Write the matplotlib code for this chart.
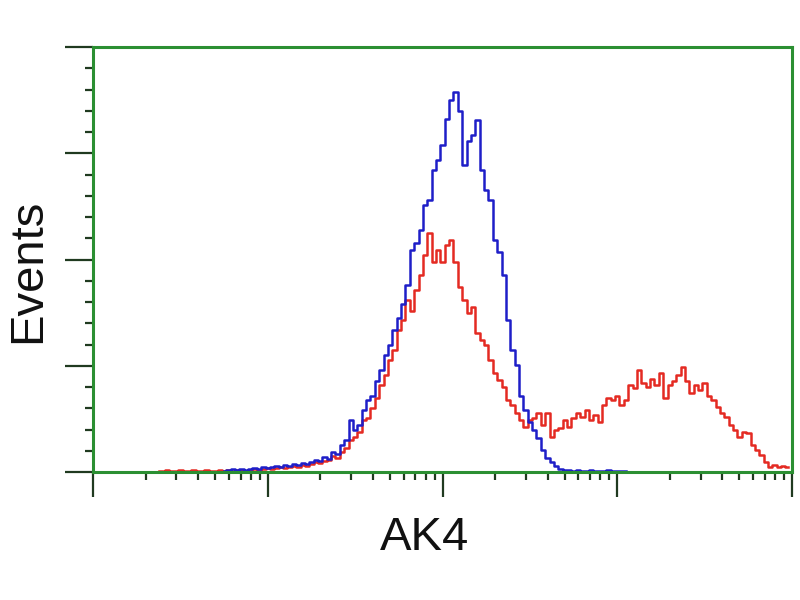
import numpy as np
import matplotlib
matplotlib.use("Agg")
import matplotlib.pyplot as plt
from matplotlib.ticker import FixedLocator, MultipleLocator, NullFormatter

# channel index -> value 10**(ch/40) (4 decades over 160 channels)
blue_start = 30
blue_counts = [
    0.5, 1, 1.4, 1, 1.4, 1, 1.4, 2, 1.4, 2.4,          # 30-39
    2, 2.4, 2.8, 2.4, 3.3, 2.8, 3.8, 3.3, 4.2, 3.8,     # 40-49
    4.7, 5.6, 5.2, 7, 6.1, 9.4, 8.5, 12.7, 15, 24.5,    # 50-59
    19.8, 22, 29, 34, 36, 43, 48, 55, 60, 67,           # 60-69
    72.5, 79, 88, 104.5, 108, 114, 125.6, 128, 142, 147,  # 70-79
    154, 166, 175, 179, 170, 144.5, 156, 158.6, 165.6, 142,  # 80-89
    132.7, 128, 109, 103.5, 92.7, 71.5, 57.4, 50.4, 36, 29,  # 90-99
    23.5, 19.8, 16, 10.4, 6.6, 4.7, 2.8, 1.4, 1, 1,     # 100-109
    0.5, 1, 0.5, 0.5, 1, 0.5, 0.5, 0.5, 1, 0.5,         # 110-119
    0.5, 0.5, 0.3,                                      # 120-122
]

red_start = 15
red_counts = [
    0.5, 0.5, 1, 0.5, 0.5, 1, 0.5, 0.5, 1, 0.5,                  # 15-24
    0.5, 1, 0.5, 0.5, 1, 0.5, 1, 0.5, 1, 1,                      # 25-34
    0.5, 1, 1.4, 1, 1.4, 1.9, 1.4, 1.9, 2.4, 1.9,                # 35-44
    2.4, 2.8, 2.4, 3.3, 2.8, 3.8,                                # 45-50
    4.7, 4.2, 5.2, 5.6, 7.5, 6.6, 9.4, 11.3, 15,                 # 51-59
    16.5, 18.8, 24.5, 25.4, 30, 35, 41, 45.6, 52.7, 57.4,        # 60-69
    67, 71.5, 81, 76, 85.6, 92.7, 102, 112.5, 98.8, 104.5,       # 70-79
    98.8, 106.8, 109, 98.8, 87, 81, 74.8, 77.6, 65.4, 62,        # 80-89
    60, 52.7, 46.6, 43.3, 40, 34, 31.5, 27.8, 24.5, 21,          # 90-99
    24.5, 25.4, 27.8, 22, 27.8, 16.5, 19.8, 20.7, 24.5, 21,      # 100-109
    25.4, 27.8, 25.9, 29, 24.5, 26.8, 23.5, 31.5, 35, 34,        # 110-119
    36, 31.5, 34, 41, 39.5, 48, 42, 40, 44, 41,                  # 120-129
    46.6, 35, 41, 43, 45.6, 49.4, 43, 37, 41, 38.6,              # 130-139
    41.9, 36, 34, 30.6, 28, 25.9, 22, 19.8, 16.5, 18.8,          # 140-149
    18.4, 12.7, 10.4, 8, 4.7, 2.4, 3.3, 2.4, 2.8, 2.4,           # 150-159
]

x_label = "AK4"
y_label = "Events"

blue_x = 10 ** (np.arange(blue_start, blue_start + len(blue_counts)) / 40.0)
red_x = 10 ** (np.arange(red_start, red_start + len(red_counts)) / 40.0)

fig = plt.figure(figsize=(8, 6), dpi=100)
ax = fig.add_axes([93 / 800, 1 - 472 / 600, (792 - 93) / 800, (472 - 47) / 600])

ax.plot(red_x, red_counts, color="#e42a22", lw=1.8, drawstyle="steps-mid")
ax.plot(blue_x, blue_counts, color="#1e1ec8", lw=1.8, drawstyle="steps-mid")

ax.set_xscale("log")
ax.set_xlim(1, 10000)
ax.set_ylim(0, 200)

green = "#2b8f32"
for s in ax.spines.values():
    s.set_color(green)
    s.set_linewidth(2.2)

ax.xaxis.set_major_locator(FixedLocator([1, 10, 100, 1000, 10000]))
minors = [m * 10 ** d for d in range(4) for m in range(2, 10)]
ax.xaxis.set_minor_locator(FixedLocator(minors))
ax.yaxis.set_major_locator(MultipleLocator(50))
ax.yaxis.set_minor_locator(MultipleLocator(10))
ax.xaxis.set_major_formatter(NullFormatter())
ax.xaxis.set_minor_formatter(NullFormatter())
ax.yaxis.set_major_formatter(NullFormatter())
ax.tick_params(axis="both", which="major", length=14, width=1.6, color="#203a20", direction="out")
ax.tick_params(axis="both", which="minor", length=6, width=1.6, color="#203a20", direction="out")
ax.tick_params(axis="x", which="major", length=18)
ax.tick_params(axis="y", which="major", length=20)

fig.text(425 / 800, 1 - 538 / 600, x_label, ha="center", va="center",
         fontsize=34, family="Liberation Sans", color="#111111")
fig.text(28 / 800, 1 - 271 / 600, y_label, ha="center", va="center", rotation=90,
         fontsize=34, family="Liberation Sans", color="#111111")

fig.savefig("out.png", dpi=100)
